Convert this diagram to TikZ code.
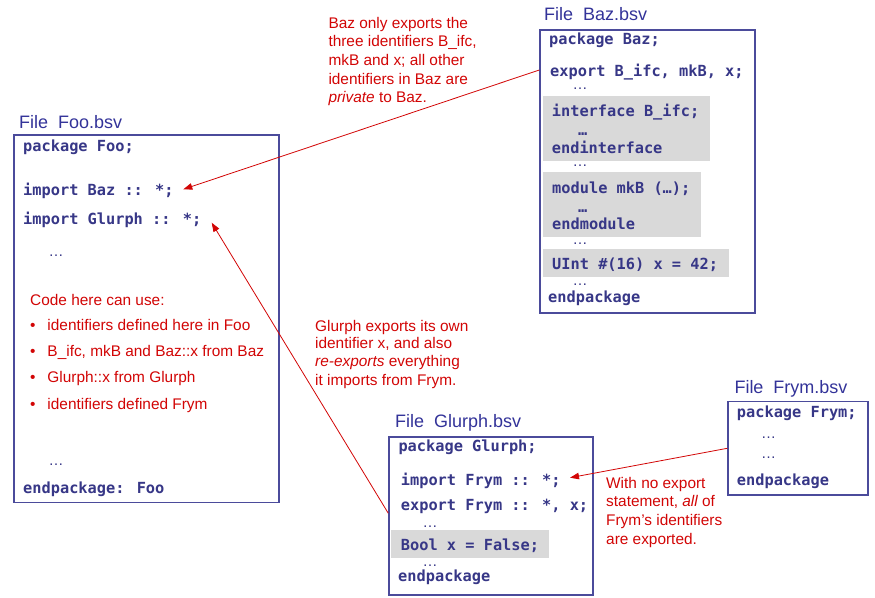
\documentclass[tikz,border=0pt]{standalone}
\usepackage{fontspec}
\setmainfont{Liberation Sans}
\newfontfamily\codefont{DejaVu Sans Mono}
\usetikzlibrary{arrows.meta}
\definecolor{codeblue}{RGB}{55,55,135}
\definecolor{titleblue}{RGB}{51,51,153}
\definecolor{boxblue}{RGB}{75,75,155}
\definecolor{notered}{RGB}{210,5,5}
\definecolor{shade}{RGB}{217,217,217}
\tikzset{
  filebox/.style={draw=boxblue, line width=1.7bp, fill=white, anchor=north west, inner sep=0pt},
  shadebox/.style={fill=shade, draw=none, anchor=north west, inner sep=0pt},
  code/.style={anchor=base west, inner sep=0pt, text=codeblue, font=\codefont\bfseries\fontsize{15.3bp}{18bp}\selectfont},
  codedots/.style={code, text height=2.5bp, text depth=0pt},
  dots/.style={anchor=base west, inner sep=0pt, text=codeblue, text height=2.5bp, text depth=0pt, font=\fontsize{15bp}{18bp}\selectfont},
  ftitle/.style={anchor=base west, inner sep=0pt, text=titleblue, font=\fontsize{18bp}{21bp}\selectfont},
  note/.style={anchor=base west, inner sep=0pt, text=notered, font=\fontsize{15.4bp}{19bp}\selectfont},
  redarrow/.style={draw=notered, line width=0.8bp, -{Triangle[length=9bp,width=6.5bp]}}
}
\begin{document}
\begin{tikzpicture}[x=1bp,y=-1bp]
\useasboundingbox (0,0) rectangle (875,598);

% ---------------- Foo ----------------
\node[ftitle] (footitle) at (19,128.3) {File\ \ Foo.bsv};
\node[filebox, minimum width=265bp, minimum height=367.4bp] (foo) at (13.3,134.3) {};
\node[code] (foo1) at (23,151.7) {package Foo;};
\node[code] (foo2) at (23,196) {import Baz :: *;};
\node[code] (foo3) at (23,225) {import Glurph :: *;};
\node[dots] (foo4) at (48.5,257) {…};
\node[note] (foo5) at (30,305) {Code here can use:};
\node[note] (foob1) at (30,330.7) {•};
\node[note] (foo6) at (47.3,330.7) {identifiers defined here in Foo};
\node[note] (foob2) at (30,356.7) {•};
\node[note] (foo7) at (47.3,356.7) {B\_ifc, mkB and Baz::x from Baz};
\node[note] (foob3) at (30,382.7) {•};
\node[note] (foo8) at (47.3,382.7) {Glurph::x from Glurph};
\node[note] (foob4) at (30,409.3) {•};
\node[note] (foo9) at (47.3,409.3) {identifiers defined Frym};
\node[dots] (foo10) at (48.5,465) {…};
\node[code] (foo11) at (23,493.3) {endpackage: Foo};
\coordinate (fooBazEnd) at (183.3,189.3);
\coordinate (fooGlurphEnd) at (211.7,222.7);

% ---------------- Baz ----------------
\node[ftitle] (baztitle) at (544,20.7) {File\ \ Baz.bsv};
\node[filebox, minimum width=215bp, minimum height=283bp] (baz) at (539.3,29.3) {};
\node[shadebox, minimum width=167.7bp, minimum height=64.7bp] (bazs1) at (542.3,96) {};
\node[shadebox, minimum width=158bp, minimum height=64.7bp] (bazs2) at (542.7,172.3) {};
\node[shadebox, minimum width=186.4bp, minimum height=27.4bp] (bazs3) at (542.3,249.3) {};
\node[code] (baz1) at (549,45) {package Baz;};
\node[code] (baz2) at (550,76.7) {export B\_ifc, mkB, x;};
\node[dots] (baz3) at (572.5,90) {…};
\node[code] (baz4) at (551.7,116.7) {interface B\_ifc;};
\node[codedots] (baz5) at (578,136) {…};
\node[code] (baz6) at (551.7,153.3) {endinterface};
\node[dots] (baz7) at (572.5,166.5) {…};
\node[code] (baz8) at (552,194) {module mkB (…);};
\node[codedots] (baz9) at (578,212.5) {…};
\node[code] (baz10) at (552,230) {endmodule};
\node[dots] (baz11) at (572.5,244.8) {…};
\node[code] (baz12) at (552,269.3) {UInt \#(16) x = 42;};
\node[dots] (baz13) at (572.5,285) {…};
\node[code] (baz14) at (548,302.7) {endpackage};
\coordinate (bazSrc) at (baz.west |- 0,70);

\node[note] (n11) at (328.3,28.3) {Baz only exports the};
\node[note] (n12) at (328.3,46.7) {three identifiers B\_ifc,};
\node[note] (n13) at (328.3,65.5) {mkB and x; all other};
\node[note] (n14) at (328.3,84.3) {identifiers in Baz are};
\node[note] (n15) at (328.3,102.5) {\itshape private\upshape{} to Baz.};

% ---------------- Glurph ----------------
\node[ftitle] (glurphtitle) at (395,427.7) {File\ \ Glurph.bsv};
\node[filebox, minimum width=204bp, minimum height=158bp] (glurph) at (388.3,436) {};
\node[shadebox, minimum width=158bp, minimum height=27.7bp] (glurphs) at (391,530) {};
\node[code] (gl1) at (398.3,451.7) {package Glurph;};
\node[code] (gl2) at (400.7,485) {import Frym :: *;};
\node[code] (gl3) at (400.7,510) {export Frym :: *, x;};
\node[dots] (gl4) at (422.5,527) {…};
\node[code] (gl5) at (400.7,550.7) {Bool x = False;};
\node[dots] (gl6) at (422.5,566.5) {…};
\node[code] (gl7) at (398,581.7) {endpackage};
\coordinate (glurphSrc) at (glurph.west |- 0,513.3);
\coordinate (glurphFrymEnd) at (570,477.7);

\node[note] (n21) at (315,331) {Glurph exports its own};
\node[note] (n22) at (315,348.5) {identifier x, and also};
\node[note] (n23) at (315,366.7) {\itshape re-exports\upshape{} everything};
\node[note] (n24) at (315,385) {it imports from Frym.};

% ---------------- Frym ----------------
\node[ftitle] (frymtitle) at (734.3,393.3) {File\ \ Frym.bsv};
\node[filebox, minimum width=140bp, minimum height=93.6bp] (frym) at (727.3,400.7) {};
\node[code] (fr1) at (736.7,417.7) {package Frym;};
\node[dots] (fr2) at (761,438.5) {…};
\node[dots] (fr3) at (761,458.5) {…};
\node[code] (fr4) at (736.7,485) {endpackage};
\coordinate (frymSrc) at (frym.west |- 0,448.3);

\node[note] (n31) at (606,488.3) {With no export};
\node[note] (n32) at (606,506.7) {statement, \itshape all\upshape{} of};
\node[note] (n33) at (606,525) {Frym's identifiers};
\node[note] (n34) at (606,544) {are exported.};

% ---------------- arrows ----------------
\draw[redarrow] (bazSrc) -- (fooBazEnd);
\draw[redarrow] (glurphSrc) -- (fooGlurphEnd);
\draw[redarrow] (frymSrc) -- (glurphFrymEnd);
\end{tikzpicture}
\end{document}
